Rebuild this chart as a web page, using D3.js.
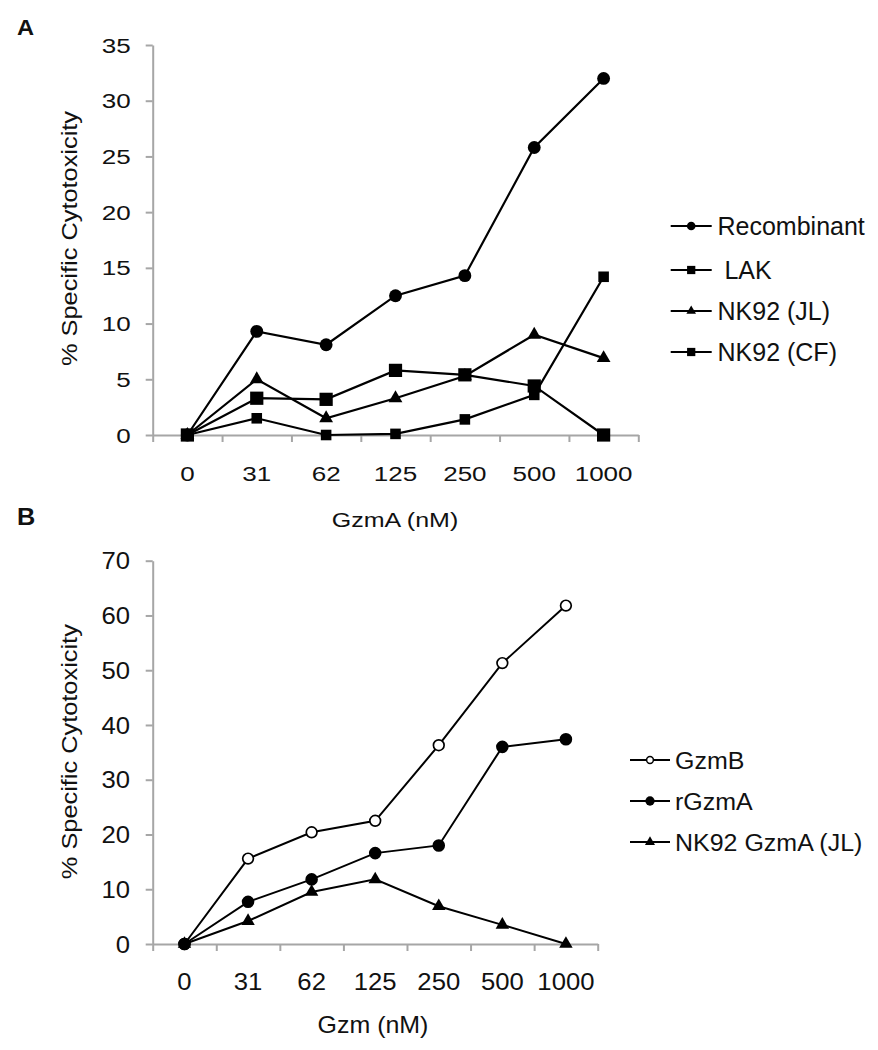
<!DOCTYPE html>
<html>
<head>
<meta charset="utf-8">
<script src="https://cdn.jsdelivr.net/npm/d3@7"></script>
<style>
  html, body { margin: 0; padding: 0; background: #fff; }
  svg text { font-family: "Liberation Sans", Arial, sans-serif; fill: #111; white-space: pre; }
</style>
</head>
<body>
<svg id="chart" width="878" height="1050"></svg>
<script>
// ---------- data ----------
const doses = ["0", "31", "62", "125", "250", "500", "1000"];

// Panel A: GzmA (nM)
const seriesA = ["Recombinant", " LAK", "NK92 (JL)", "NK92 (CF)"];
const recombinant = [0, 9.3, 8.1, 12.5, 14.3, 25.8, 32.0];
const lak         = [0, 3.3, 3.2, 5.8, 5.4, 4.4, 0];
const nk92JL      = [0, 5.0, 1.5, 3.3, 5.3, 9.0, 6.9];
const nk92CF      = [0, 1.5, 0, 0.1, 1.4, 3.6, 14.2];
const yTicksA = [0, 5, 10, 15, 20, 25, 30, 35];

// Panel B: Gzm (nM)
const seriesB = ["GzmB", "rGzmA", "NK92 GzmA (JL)"];
const gzmB     = [0, 15.6, 20.4, 22.5, 36.3, 51.3, 61.8];
const rGzmA    = [0, 7.7, 11.8, 16.6, 18.0, 36.0, 37.4];
const nk92GzmA = [0, 4.2, 9.5, 11.8, 6.9, 3.5, 0];
const yTicksB = [0, 10, 20, 30, 40, 50, 60, 70];

// ---------- helpers ----------
const svg = d3.select("#chart");
const AXIS = "#a6a6a6";

function label(g, x, y, str, o) {
  o = o || {};
  const t = g.append("text")
    .attr("transform", `translate(${x},${y}) rotate(${o.rot || 0}) scale(${o.sx || 1},1)`)
    .attr("text-anchor", o.anchor || "start")
    .style("font-size", (o.size || 20) + "px")
    .text(str);
  if (o.weight) t.style("font-weight", o.weight);
  return t;
}

function symbolPath(type, size) {
  return d3.symbol().type(type).size(size)();
}

function panel(cfg) {
  const g = svg.append("g");
  const n = doses.length;
  const xIdx = d3.scaleLinear().domain([0, n]).range([cfg.x0, cfg.x1]);
  const x = d3.scaleBand().domain(doses).range([cfg.x0, cfg.x1]).padding(0);
  const y = d3.scaleLinear().domain([0, cfg.yMax]).range([cfg.yBottom, cfg.yTop]);
  const cx = d => x(d) + x.bandwidth() / 2;

  // axes
  const ay = g.append("g").attr("transform", `translate(${cfg.x0},0)`)
    .call(d3.axisLeft(y).tickValues(cfg.yTicks).tickFormat("").tickSizeInner(7).tickSizeOuter(0));
  const ax = g.append("g").attr("transform", `translate(0,${cfg.yBottom})`)
    .call(d3.axisBottom(xIdx).tickValues(d3.range(n + 1)).tickFormat("").tickSizeInner(7).tickSizeOuter(0));
  [ay, ax].forEach(a => {
    a.selectAll("path.domain").attr("stroke", AXIS).attr("stroke-width", 2);
    a.selectAll(".tick line").attr("stroke", AXIS).attr("stroke-width", 2);
  });

  // tick labels
  cfg.yTicks.forEach(v => label(g, cfg.yLabelRight, y(v) + 0.358 * cfg.tickSize, String(v),
    { size: cfg.tickSize, sx: cfg.tickSx, anchor: "end" }));
  doses.forEach(d => label(g, cx(d), cfg.xLabelBase, d,
    { size: cfg.tickSize, sx: cfg.tickSx, anchor: "middle" }));

  // titles
  label(g, cfg.xTitleX, cfg.xTitleBase, cfg.xTitle, { size: cfg.xTitleSize, sx: cfg.xTitleSx, anchor: "middle" });
  label(g, 77, cfg.yTitleY, "% Specific Cytotoxicity", { size: 21.5, sx: 1.18, anchor: "middle", rot: -90 });
  label(g, 17, cfg.letterBase, cfg.letter, { size: cfg.letterSize, sx: 1.1, weight: "bold" });

  // series
  const line = d3.line().x((v, i) => cx(doses[i])).y(v => y(v));
  cfg.series.forEach(s => {
    g.append("path").datum(s.values).attr("d", line)
      .attr("fill", "none").attr("stroke", "#000").attr("stroke-width", cfg.lineW);
  });
  cfg.series.forEach(s => {
    g.selectAll(null).data(s.values).enter().append("path")
      .attr("transform", (v, i) => `translate(${cx(doses[i])},${y(v)})`)
      .attr("d", symbolPath(s.type, s.size))
      .attr("fill", s.open ? "#fff" : "#000")
      .attr("stroke", "#000").attr("stroke-width", s.open ? 1.7 : 0);
  });

  // legend
  cfg.series.forEach((s, i) => {
    const ly = cfg.legY[i];
    g.append("line").attr("x1", cfg.legX0).attr("x2", cfg.legX1).attr("y1", ly).attr("y2", ly)
      .attr("stroke", "#000").attr("stroke-width", cfg.lineW);
    g.append("path").attr("transform", `translate(${(cfg.legX0 + cfg.legX1) / 2},${ly})`)
      .attr("d", symbolPath(s.type, s.legSize))
      .attr("fill", s.open ? "#fff" : "#000")
      .attr("stroke", "#000").attr("stroke-width", s.open ? 1.5 : 0);
    label(g, cfg.legTextX, ly + 0.355 * cfg.legSize, s.name, { size: cfg.legSize, sx: cfg.legSx });
  });
}

// ---------- Panel A ----------
panel({
  letter: "A", letterBase: 35, letterSize: 21.5,
  x0: 152.7, x1: 638.3, yTop: 45, yBottom: 435, yMax: 35, yTicks: yTicksA,
  yLabelRight: 130.7, xLabelBase: 480.5, tickSize: 21, tickSx: 1.24,
  xTitle: "GzmA (nM)", xTitleX: 395, xTitleBase: 526.5, xTitleSize: 20.5, xTitleSx: 1.22,
  yTitleY: 238.5, lineW: 2.2,
  legX0: 670.7, legX1: 711.7, legTextX: 717.5, legY: [226, 270, 311, 352], legSize: 25, legSx: 1.0,
  series: [
    { name: seriesA[0], values: recombinant, type: d3.symbolCircle, size: 130, legSize: 58 },
    { name: seriesA[1], values: lak, type: d3.symbolSquare, size: 175, legSize: 68 },
    { name: seriesA[2], values: nk92JL, type: d3.symbolTriangle, size: 82, legSize: 40 },
    { name: seriesA[3], values: nk92CF, type: d3.symbolSquare, size: 112, legSize: 68 }
  ]
});

// ---------- Panel B ----------
panel({
  letter: "B", letterBase: 525, letterSize: 23,
  x0: 152.7, x1: 597.7, yTop: 560.7, yBottom: 944, yMax: 70, yTicks: yTicksB,
  yLabelRight: 130, xLabelBase: 989.5, tickSize: 24, tickSx: 1.07,
  xTitle: "Gzm (nM)", xTitleX: 373, xTitleBase: 1033, xTitleSize: 24, xTitleSx: 1.04,
  yTitleY: 751.7, lineW: 2,
  legX0: 630, legX1: 670, legTextX: 675, legY: [760, 801, 842], legSize: 24.5, legSx: 1.02,
  series: [
    { name: seriesB[0], values: gzmB, type: d3.symbolCircle, size: 90, legSize: 36, open: true },
    { name: seriesB[1], values: rGzmA, type: d3.symbolCircle, size: 124, legSize: 68 },
    { name: seriesB[2], values: nk92GzmA, type: d3.symbolTriangle, size: 78, legSize: 44 }
  ]
});
</script>
</body>
</html>
